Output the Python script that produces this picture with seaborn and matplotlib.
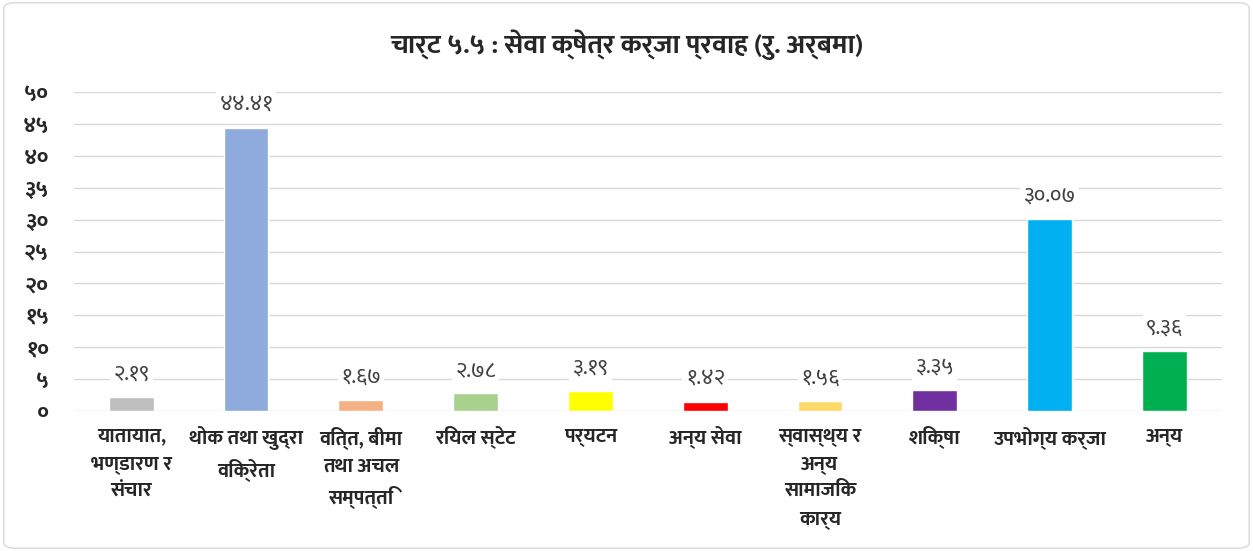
import numpy as np
import pandas as pd
import seaborn as sns
import matplotlib.pyplot as plt
from matplotlib.patches import FancyBboxPatch

categories = ['यातायात,\nभण्डारण र\nसंचार', 'थोक तथा खुद्रा\nविक्रेता', 'वित्त, बीमा\nतथा अचल\nसम्पत्ति',
              'रियल स्टेट', 'पर्यटन', 'अन्य सेवा', 'स्वास्थ्य र\nअन्य\nसामाजिक\nकार्य',
              'शिक्षा', 'उपभोग्य कर्जा', 'अन्य']
values = [2.19, 44.41, 1.67, 2.78, 3.19, 1.42, 1.56, 3.35, 30.07, 9.36]
colors = ['#BFBFBF', '#8FAADC', '#F4B183', '#A9D18E', '#FFFF00', '#FF0000',
          '#FFD966', '#7030A0', '#00B0F0', '#00B050']
yticks = [0, 5, 10, 15, 20, 25, 30, 35, 40, 45, 50]
title = 'चार्ट ५.५ : सेवा क्षेत्र कर्जा प्रवाह (रु. अर्बमा)'

# western digits -> devanagari digits
NEP = str.maketrans('0123456789', '०१२३४५६७८९')

sns.set_theme(style='white')
plt.rcParams['font.family'] = ['Mukta', 'Noto Sans Devanagari', 'DejaVu Sans']

df = pd.DataFrame({'cat': categories, 'val': values})

fig = plt.figure(figsize=(12.53, 5.51), dpi=100)
ax = fig.add_axes([0.059, 0.254, 0.916, 0.579])

sns.barplot(data=df, x='cat', y='val', hue='cat', palette=colors, legend=False,
            width=0.39, saturation=1, ax=ax, zorder=3)

ax.set_ylim(0, 50)
ax.set_yticks(yticks)
ax.set_yticklabels([str(t).translate(NEP) for t in yticks], fontsize=16, fontweight='bold')
ax.tick_params(axis='y', length=0, pad=18)
ax.tick_params(axis='x', length=0, pad=11)
for lbl in ax.get_xticklabels():
    lbl.set_fontsize(14.5)
    lbl.set_fontweight('bold')
    lbl.set_linespacing(1.5)
    lbl.set_verticalalignment('top')
ax.set_xlabel('')
ax.set_ylabel('')
ax.grid(axis='y', color='#D9D9D9', linewidth=1, zorder=0)
for s in ax.spines.values():
    s.set_visible(False)

# value labels above bars
for p, v in zip(ax.patches, values):
    ax.annotate(f'{v:.2f}'.translate(NEP), (p.get_x() + p.get_width() / 2, p.get_height()),
                xytext=(0, 9), textcoords='offset points', ha='center', va='bottom',
                fontsize=16, color='#404040', zorder=4,
                bbox=dict(boxstyle='square,pad=0.15', fc='white', ec='none'))

fig.text(0.5, 0.918, title, ha='center', va='center', fontsize=19.5, fontweight='bold')

fig.patches.append(FancyBboxPatch((0.003, 0.005), 0.994, 0.99, boxstyle='round,pad=0,rounding_size=0.01',
                                  transform=fig.transFigure, fc='none', ec='#D9D9D9', lw=1))

fig.savefig('out.png', dpi=100)
